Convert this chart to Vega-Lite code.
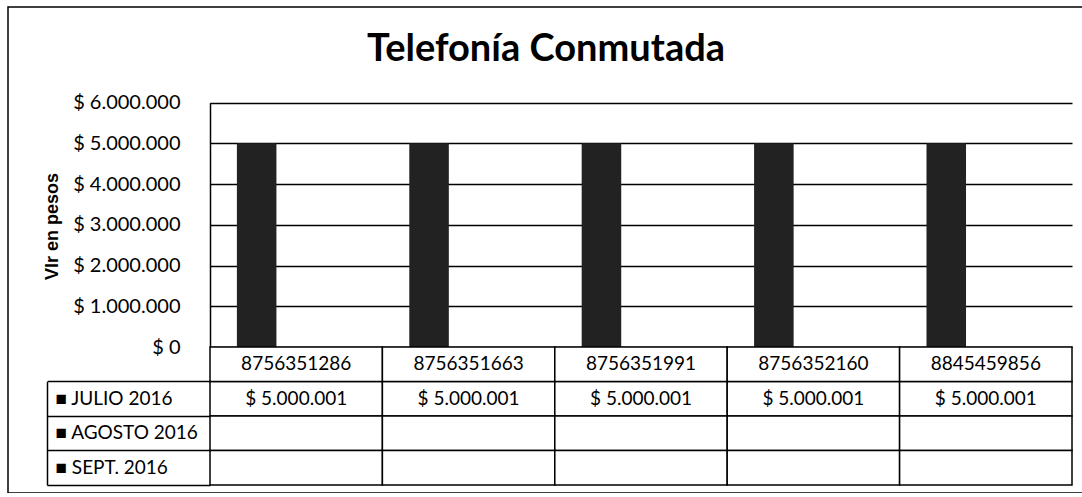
{
  "$schema": "https://vega.github.io/schema/vega-lite/v6.json",
  "width": 1076,
  "height": 486,
  "autosize": "none",
  "padding": {"left": 8, "top": 7, "right": 0, "bottom": 0},
  "background": "white",
  "title": {"text": "Telefonía Conmutada", "font": "Lato", "fontSize": 38, "fontWeight": "bold", "color": "black", "anchor": "middle", "frame": "group", "offset": -62},
  "config": {
    "view": {"stroke": "black", "strokeWidth": 1.5},
    "locale": {"number": {"decimal": ",", "thousands": ".", "grouping": [3], "currency": ["$ ", ""]}},
    "font": "Lato"
  },
  "data": {"values": [
    {"phone": "8756351286", "serie": "JULIO 2016", "valor": 5000001},
    {"phone": "8756351663", "serie": "JULIO 2016", "valor": 5000001},
    {"phone": "8756351991", "serie": "JULIO 2016", "valor": 5000001},
    {"phone": "8756352160", "serie": "JULIO 2016", "valor": 5000001},
    {"phone": "8845459856", "serie": "JULIO 2016", "valor": 5000001},
    {"phone": "8756351286", "serie": "AGOSTO 2016", "valor": null},
    {"phone": "8756351663", "serie": "AGOSTO 2016", "valor": null},
    {"phone": "8756351991", "serie": "AGOSTO 2016", "valor": null},
    {"phone": "8756352160", "serie": "AGOSTO 2016", "valor": null},
    {"phone": "8845459856", "serie": "AGOSTO 2016", "valor": null},
    {"phone": "8756351286", "serie": "SEPT. 2016", "valor": null},
    {"phone": "8756351663", "serie": "SEPT. 2016", "valor": null},
    {"phone": "8756351991", "serie": "SEPT. 2016", "valor": null},
    {"phone": "8756352160", "serie": "SEPT. 2016", "valor": null},
    {"phone": "8845459856", "serie": "SEPT. 2016", "valor": null}
  ]},
  "layer": [
    {
      "mark": {"type": "bar", "color": "#222222"},
      "encoding": {
        "x": {"field": "phone", "type": "nominal", "sort": null, "scale": {"range": [202, 1064], "paddingInner": 0, "paddingOuter": 0}, "axis": null},
        "xOffset": {"field": "serie", "type": "nominal", "sort": ["JULIO 2016", "AGOSTO 2016", "SEPT. 2016"], "scale": {"paddingInner": 0, "paddingOuter": 0.68}},
        "y": {
          "field": "valor", "type": "quantitative",
          "scale": {"domain": [0, 6000000], "range": [340, 95.6], "nice": false},
          "axis": {
            "orient": "left", "offset": -202,
            "values": [0, 1000000, 2000000, 3000000, 4000000, 5000000, 6000000],
            "format": "$,d",
            "grid": false, "domain": true, "domainColor": "black", "domainWidth": 1.5,
            "ticks": true, "tickSize": -862, "tickColor": "black", "tickWidth": 1.5,
            "labelPadding": 892, "labelFont": "Lato", "labelFontSize": 20, "labelColor": "black", "labelFlush": false,
            "title": "Vlr en pesos", "titleFont": "Liberation Sans", "titleFontSize": 18, "titleFontWeight": "bold", "titleColor": "black",
            "titleX": -158, "titleY": 219, "titleAngle": -90, "titleAlign": "center", "titleBaseline": "middle"
          }
        }
      }
    },
    {
      "layer": [
        {
          "mark": {"type": "rect", "fill": "white", "stroke": "black", "strokeWidth": 1.5},
          "encoding": {
            "x": {"field": "phone", "type": "nominal", "sort": null},
            "y": {
              "field": "serie", "type": "nominal",
              "scale": {"domain": ["hdr", "JULIO 2016", "AGOSTO 2016", "SEPT. 2016"], "range": [340, 478], "paddingInner": 0, "paddingOuter": 0},
              "axis": {
                "orient": "left", "offset": -39, "domain": false, "grid": false,
                "ticks": true, "tickSize": -163, "tickColor": "black", "tickWidth": 1.5, "bandPosition": 1,
                "labelExpr": "datum.value == 'hdr' ? '' : '■ ' + datum.value",
                "labelAlign": "left", "labelPadding": 155, "labelOffset": 0,
                "labelFont": "Lato", "labelFontSize": 19, "labelColor": "black",
                "title": null
              }
            }
          }
        },
        {
          "transform": [{"filter": "datum.serie == 'JULIO 2016'"}],
          "mark": {"type": "rect", "fill": "white", "stroke": "black", "strokeWidth": 1.5},
          "encoding": {
            "x": {"field": "phone", "type": "nominal", "sort": null},
            "y": {"datum": "hdr", "type": "nominal"}
          }
        },
        {
          "transform": [{"filter": "datum.serie == 'JULIO 2016'"}],
          "mark": {"type": "text", "font": "Lato", "fontSize": 19, "color": "black"},
          "encoding": {
            "x": {"field": "phone", "type": "nominal", "sort": null},
            "y": {"datum": "hdr", "type": "nominal"},
            "text": {"field": "phone", "type": "nominal"}
          }
        }
      ]
    },
    {
      "transform": [{"filter": "datum.valor != null"}],
      "mark": {"type": "text", "font": "Lato", "fontSize": 19, "color": "black"},
      "encoding": {
        "x": {"field": "phone", "type": "nominal", "sort": null},
        "y": {
          "field": "serie", "type": "nominal",
          "scale": {"domain": ["JULIO 2016", "AGOSTO 2016", "SEPT. 2016"], "range": [374.5, 478], "paddingInner": 0, "paddingOuter": 0},
          "axis": {"orient": "left", "offset": -39, "domain": true, "domainColor": "black", "domainWidth": 1.5, "ticks": false, "labels": false, "grid": false, "title": null}
        },
        "text": {"field": "valor", "type": "quantitative", "format": "$,d"}
      }
    }
  ],
  "resolve": {"scale": {"y": "independent"}, "axis": {"y": "independent"}}
}
